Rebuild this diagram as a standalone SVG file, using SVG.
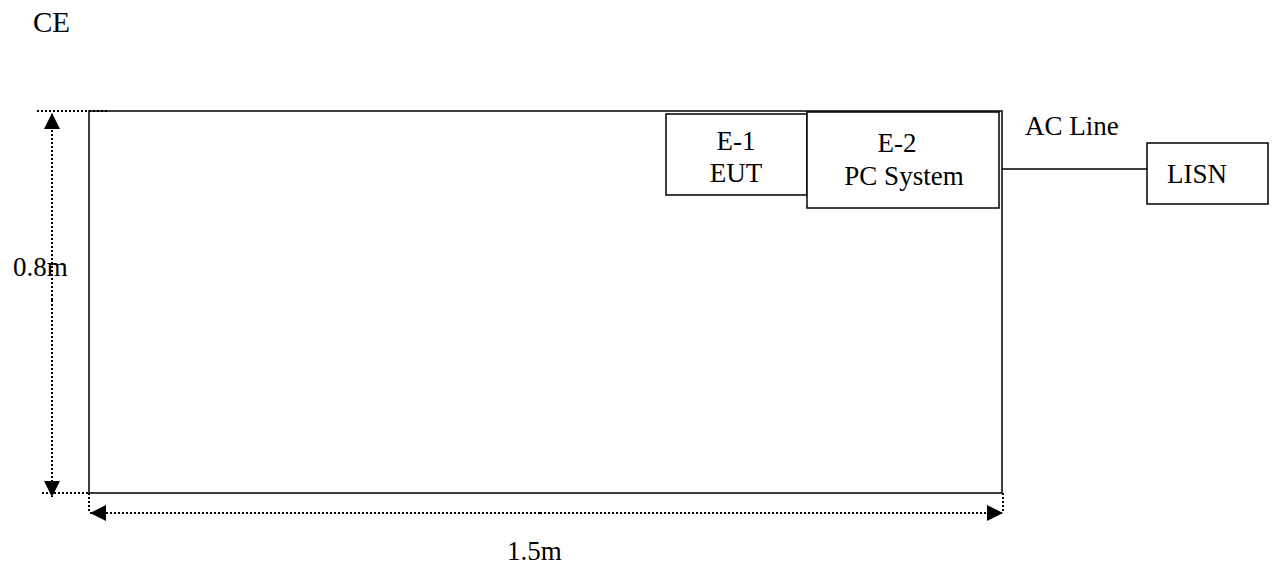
<svg xmlns="http://www.w3.org/2000/svg" width="1276" height="568" viewBox="0 0 1276 568">
<style>
  text { font-family: "Liberation Serif", "Times New Roman", serif; font-size: 27px; fill: #000; }
  .box { fill: #fff; stroke: #000; stroke-width: 1.5; }
  .line { stroke: #000; stroke-width: 1.5; fill: none; }
  .dot { stroke: #000; stroke-width: 2; stroke-dasharray: 2 2; fill: none; }
  .mid { text-anchor: middle; }
</style>
<defs>
  <marker id="ah" viewBox="0 0 16 16" refX="16" refY="8" markerWidth="16" markerHeight="16" markerUnits="userSpaceOnUse" orient="auto">
    <path d="M0,0 L16,8 L0,16 Z" fill="#000"/>
  </marker>
</defs>
<rect width="1276" height="568" fill="#fff"/>
<text x="33" y="32" style="font-size:29px">CE</text>
<g id="table">
  <rect class="box" x="89" y="111" width="913" height="382"/>
</g>
<g id="e1">
  <rect class="box" x="666" y="114" width="141" height="81"/>
  <text class="mid" x="736" y="150">E-1</text>
  <text class="mid" x="736" y="182">EUT</text>
</g>
<g id="e2">
  <rect class="box" x="807" y="112" width="192" height="96"/>
  <text class="mid" x="897" y="152">E-2</text>
  <text class="mid" x="904" y="185">PC System</text>
</g>
<g id="lisn">
  <rect class="box" x="1147" y="143" width="121" height="61"/>
  <text x="1167" y="183">LISN</text>
</g>
<g id="connectors">
  <line class="line" x1="1002" y1="169" x2="1147" y2="169"/>
  <text x="1025" y="135">AC Line</text>
  <line class="dot" x1="37" y1="111" x2="107" y2="111"/>
  <line class="dot" x1="42" y1="493" x2="89" y2="493"/>
  <line class="dot" x1="89" y1="493" x2="89" y2="513"/>
  <line class="dot" x1="1003" y1="493" x2="1003" y2="513"/>
  <line class="dot" x1="52" y1="300" x2="52" y2="113" marker-end="url(#ah)"/>
  <line class="dot" x1="52" y1="300" x2="52" y2="497" marker-end="url(#ah)"/>
  <line class="dot" x1="540" y1="513" x2="90" y2="513" marker-end="url(#ah)"/>
  <line class="dot" x1="540" y1="513" x2="1003" y2="513" marker-end="url(#ah)"/>
  <text x="13" y="276">0.8m</text>
  <text x="507" y="560">1.5m</text>
</g>
</svg>
